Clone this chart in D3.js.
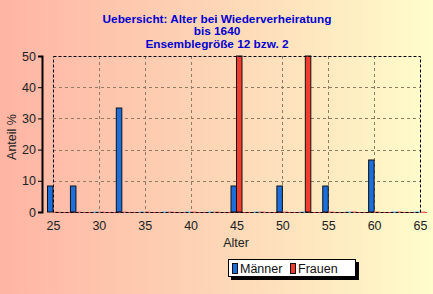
<!DOCTYPE html>
<html>
<head>
<meta charset="utf-8">
<script src="https://cdn.jsdelivr.net/npm/d3@7"></script>
<style>
  body { margin: 0; padding: 0; overflow: hidden; }
  svg { display: block; font-family: "Liberation Sans", Arial, sans-serif; }
</style>
</head>
<body>
<div id="chart"></div>
<script>
// Altersklassen (2,5 Jahre) und Anteile in %
var ages = [25, 27.5, 30, 32.5, 35, 37.5, 40, 42.5, 45, 47.5, 50, 52.5, 55, 57.5, 60, 62.5, 65];
var maenner = [8.33, 8.33, 0, 33.33, 0, 0, 0, 0, 8.33, 0, 8.33, 0, 8.33, 0, 16.67, 0, 0];
var frauen = [0, 0, 0, 0, 0, 0, 0, 0, 50, 0, 0, 50, 0, 0, 0, 0, 0];
var xTicks = [25, 30, 35, 40, 45, 50, 55, 60, 65];
var yTicks = [0, 10, 20, 30, 40, 50];
var titleLines = ["Uebersicht: Alter bei Wiederverheiratung", "bis 1640", "Ensemblegröße 12 bzw. 2"];
var seriesNames = ["Männer", "Frauen"];

var width = 433, height = 294;
var margin = {top: 56, right: 13, bottom: 82, left: 53};
var colors = {"Männer": "#1a6fdc", "Frauen": "#f23c2e"};
var zeroColors = {"Männer": "#6fb8e8", "Frauen": "#f07060"};

var svg = d3.select("#chart").append("svg")
  .attr("width", width)
  .attr("height", height);

// background gradient
var defs = svg.append("defs");
var grad = defs.append("linearGradient").attr("id", "bg")
  .attr("x1", "0%").attr("x2", "100%").attr("y1", "0%").attr("y2", "0%");
grad.append("stop").attr("offset", "0%").attr("stop-color", "#ffb4a4");
grad.append("stop").attr("offset", "50%").attr("stop-color", "#fdd6b6");
grad.append("stop").attr("offset", "100%").attr("stop-color", "#fffdcb");
svg.append("rect").attr("width", width).attr("height", height).attr("fill", "url(#bg)");

var x = d3.scaleLinear().domain([25, 65]).range([margin.left, width - margin.right]);
var y = d3.scaleLinear().domain([0, 50]).range([height - margin.bottom, margin.top]);
var y0 = y(0);

// title
svg.append("g").selectAll("text")
  .data(titleLines)
  .enter().append("text")
  .attr("x", 217)
  .attr("y", function(d, i) { return 22.5 + i * 12.8; })
  .attr("text-anchor", "middle")
  .attr("font-size", "11.8px")
  .attr("font-weight", "bold")
  .attr("fill", "#0000d0")
  .text(function(d) { return d; });

// grid
var grid = svg.append("g").attr("stroke", "#8f7a62").attr("stroke-dasharray", "3,3").attr("stroke-width", 1);
grid.selectAll(".gx").data(xTicks.slice(1, -1)).enter().append("line")
  .attr("x1", function(d) { return Math.round(x(d)) + 0.5; })
  .attr("x2", function(d) { return Math.round(x(d)) + 0.5; })
  .attr("y1", y(50)).attr("y2", y0);
grid.selectAll(".gy").data(yTicks.slice(1, -1)).enter().append("line")
  .attr("x1", x(25)).attr("x2", x(65))
  .attr("y1", function(d) { return Math.round(y(d)) + 0.5; })
  .attr("y2", function(d) { return Math.round(y(d)) + 0.5; });

// red baseline of the x axis
svg.append("line")
  .attr("x1", x(25)).attr("x2", x(65) + 7)
  .attr("y1", y0 + 0.5).attr("y2", y0 + 0.5)
  .attr("stroke", "#e04040").attr("stroke-width", 1);

// bars
var barW = 5.5;
var series = [
  {name: seriesNames[0], values: maenner, offset: -barW},
  {name: seriesNames[1], values: frauen, offset: 0}
];
series.forEach(function(s) {
  var data = ages.map(function(a, i) { return {age: a, v: s.values[i]}; });
  var g = svg.append("g");
  g.selectAll("rect.zero").data(data.filter(function(d) { return d.v === 0; }))
    .enter().append("rect")
    .attr("x", function(d) { return x(d.age) + s.offset; })
    .attr("y", y0 - 0.5)
    .attr("width", barW)
    .attr("height", 1.5)
    .attr("fill", zeroColors[s.name]);
  g.selectAll("rect.bar").data(data.filter(function(d) { return d.v > 0; }))
    .enter().append("rect")
    .attr("x", function(d) { return x(d.age) + s.offset; })
    .attr("y", function(d) { return y(d.v); })
    .attr("width", barW)
    .attr("height", function(d) { return y0 - y(d.v); })
    .attr("fill", colors[s.name])
    .attr("stroke", "#111")
    .attr("stroke-width", 1);
});

// plot frame (dashed)
svg.append("rect")
  .attr("x", x(25) + 0.5).attr("y", y(50) + 0.5)
  .attr("width", x(65) - x(25)).attr("height", y0 - y(50))
  .attr("fill", "none").attr("stroke", "#000").attr("stroke-dasharray", "3,2");

// y axis, offset to the left
var yAxis = svg.append("g")
  .attr("transform", "translate(" + (margin.left - 11) + ",0)")
  .call(d3.axisLeft(y).tickValues(yTicks).tickSize(4).tickPadding(2));
yAxis.select(".domain").attr("stroke-width", 2);
yAxis.selectAll("text").attr("font-size", "12.5px").attr("fill", "#222").attr("font-family", "Liberation Sans, Arial, sans-serif");

// x axis labels
var xAxis = svg.append("g")
  .attr("transform", "translate(0," + y0 + ")")
  .call(d3.axisBottom(x).tickValues(xTicks).tickSize(0).tickPadding(9));
xAxis.select(".domain").remove();
xAxis.selectAll("text").attr("font-size", "12.5px").attr("fill", "#222").attr("font-family", "Liberation Sans, Arial, sans-serif");

// axis titles
svg.append("text")
  .attr("x", 236).attr("y", 247)
  .attr("text-anchor", "middle")
  .attr("font-size", "12.5px").attr("fill", "#222")
  .text("Alter");
svg.append("text")
  .attr("transform", "translate(16,137) rotate(-90)")
  .attr("text-anchor", "middle")
  .attr("font-size", "12.5px").attr("fill", "#222")
  .text("Anteil %");

// legend
var lg = svg.append("g").attr("transform", "translate(228,259)");
lg.append("rect").attr("x", 3).attr("y", 3).attr("width", 128).attr("height", 18).attr("fill", "#000");
lg.append("rect").attr("x", 0.5).attr("y", 0.5).attr("width", 127).attr("height", 17)
  .attr("fill", "#fff").attr("stroke", "#000");
var items = [{name: seriesNames[0], sx: 4, tx: 12}, {name: seriesNames[1], sx: 62, tx: 70}];
items.forEach(function(it) {
  lg.append("rect").attr("x", it.sx + 0.5).attr("y", 4.5).attr("width", 5).attr("height", 10)
    .attr("fill", colors[it.name]).attr("stroke", "#111");
  lg.append("text").attr("x", it.tx).attr("y", 14)
    .attr("font-size", "12.5px").attr("fill", "#111")
    .text(it.name);
});
</script>
</body>
</html>
